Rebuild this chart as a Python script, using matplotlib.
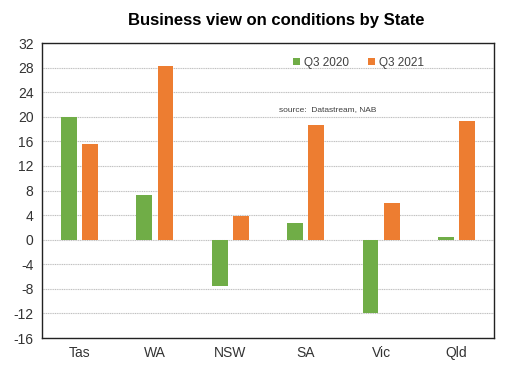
import matplotlib
matplotlib.use("Agg")
import matplotlib.pyplot as plt
import numpy as np

states = ["Tas", "WA", "NSW", "SA", "Vic", "Qld"]
q3_2020 = [20.0, 7.2, -7.6, 2.7, -12.0, 0.45]
q3_2021 = [15.5, 28.2, 3.9, 18.6, 6.0, 19.3]
yticks = list(range(-16, 33, 4))

plt.rcParams['font.family'] = ['Liberation Sans', 'DejaVu Sans']
plt.rcParams['axes.unicode_minus'] = False

fig = plt.figure(figsize=(5.11, 3.68), dpi=100)
ax = fig.add_axes([0.082, 0.0815, 0.885, 0.8015])

x = np.arange(len(states))
w = 0.21
ax.bar(x - 0.14, q3_2020, w, color='#70AD47', label='Q3 2020', zorder=3)
ax.bar(x + 0.14, q3_2021, w, color='#ED7D31', label='Q3 2021', zorder=3)

ax.set_xlim(-0.5, len(states) - 0.5)
ax.set_ylim(-16, 32)
ax.set_yticks(yticks)
ax.set_xticks(x)
ax.set_xticklabels(states)
ax.tick_params(axis='both', length=0, labelsize=10, colors='#333333', pad=6)
ax.yaxis.grid(True, color='#c0c0c0', linestyle=(0, (1, 0.6)), linewidth=0.8, zorder=0)
for s in ax.spines.values():
    s.set_color('#222222')
    s.set_linewidth(1.0)

ax.legend(loc='upper center', bbox_to_anchor=(0.70, 0.99), ncol=2, frameon=False,
          fontsize=8.5, handlelength=0.6, handleheight=0.6, handletextpad=0.3,
          columnspacing=1.6, labelcolor='#404040')
ax.text(0.525, 0.77, 'source:  Datastream, NAB', transform=ax.transAxes,
        fontsize=6, color='#404040')

fig.text(0.54, 0.933, 'Business view on conditions by State', ha='center',
         fontsize=12, fontweight='bold')

fig.savefig('out.png', dpi=100)
